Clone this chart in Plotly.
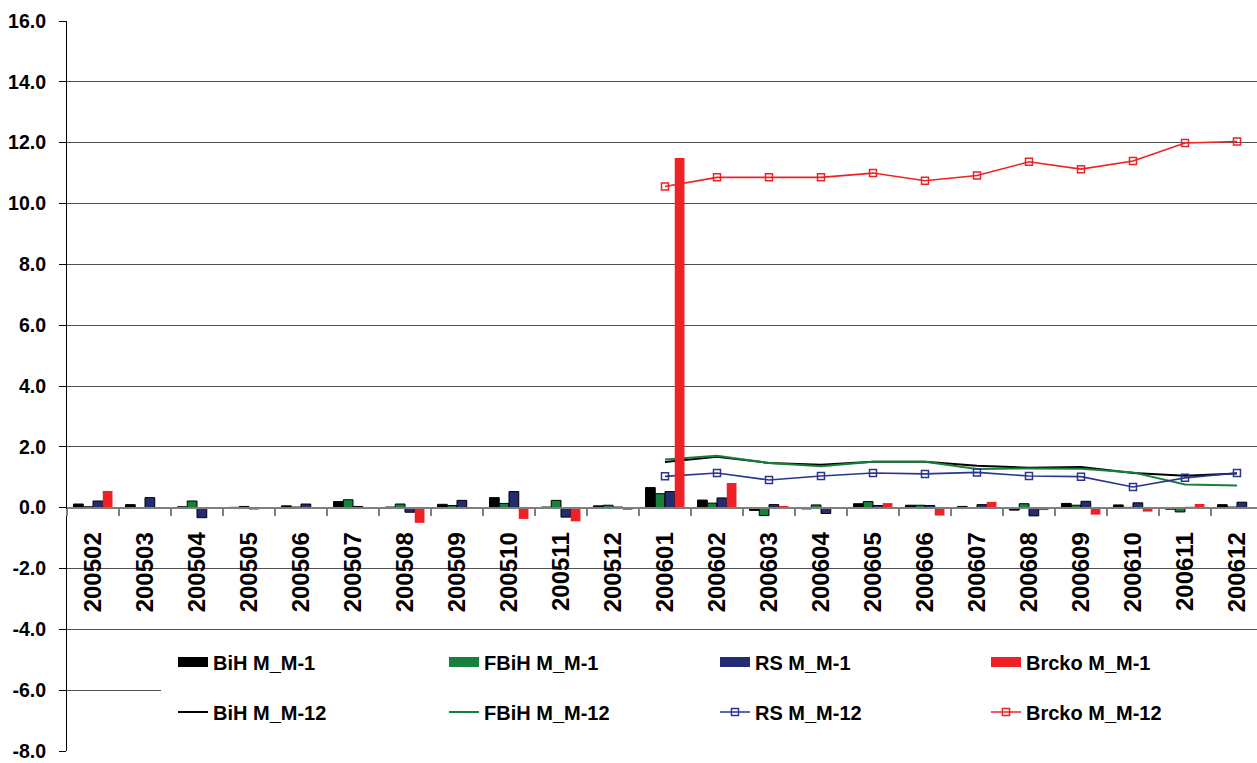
import plotly.graph_objects as go

categories = ["200502", "200503", "200504", "200505", "200506", "200507", "200508",
              "200509", "200510", "200511", "200512", "200601", "200602", "200603",
              "200604", "200605", "200606", "200607", "200608", "200609", "200610",
              "200611", "200612"]

bih_m1 = [0.12, 0.10, 0.03, 0.01, 0.06, 0.20, 0.02, 0.11, 0.33, 0.02, 0.06, 0.66,
          0.25, -0.09, -0.04, 0.13, 0.08, 0.04, -0.08, 0.14, 0.09, -0.05, 0.10]
fbih_m1 = [0.03, -0.02, 0.22, 0.04, 0.02, 0.26, 0.12, 0.07, 0.14, 0.24, 0.08, 0.46,
           0.15, -0.26, 0.09, 0.20, 0.08, -0.02, 0.13, 0.08, 0.01, -0.14, 0.02]
rs_m1 = [0.22, 0.33, -0.33, -0.04, 0.12, 0.04, -0.15, 0.24, 0.53, -0.31, 0.02, 0.53,
         0.32, 0.10, -0.19, 0.07, 0.07, 0.10, -0.27, 0.21, 0.16, 0.01, 0.18]
brcko_m1 = [0.55, 0.0, 0.0, 0.0, 0.0, 0.0, -0.50, 0.0, -0.37, -0.45, -0.07, 11.5,
            0.81, 0.03, 0.0, 0.15, -0.26, 0.19, -0.08, -0.23, -0.13, 0.12, 0.0]

bih_m12 = [None, None, None, None, None, None, None, None, None, None, None,
           1.50, 1.67, 1.47, 1.41, 1.51, 1.51, 1.38, 1.31, 1.34, 1.14, 1.05, 1.12]
fbih_m12 = [None, None, None, None, None, None, None, None, None, None, None,
            1.58, 1.71, 1.47, 1.36, 1.51, 1.51, 1.27, 1.29, 1.28, 1.16, 0.76, 0.73]
rs_m12 = [None, None, None, None, None, None, None, None, None, None, None,
          1.03, 1.14, 0.91, 1.04, 1.14, 1.11, 1.16, 1.04, 1.02, 0.68, 0.98, 1.14]
brcko_m12 = [None, None, None, None, None, None, None, None, None, None, None,
             10.56, 10.86, 10.86, 10.86, 11.00, 10.75, 10.92, 11.37, 11.13, 11.40, 11.99, 12.04]

y_ticks = [-8, -6, -4, -2, 0, 2, 4, 6, 8, 10, 12, 14, 16]

BLACK = "#000000"
GREEN = "#17803d"
NAVY = "#232c73"
RED = "#ee2226"
NAVY_LINE = "#2b3490"

FONT = "Liberation Sans, Arial, sans-serif"
NARROW = "Liberation Sans Narrow, Arial Narrow, Liberation Sans, sans-serif"

fig = go.Figure()

bar_specs = [
    ("BiH M_M-1", bih_m1, BLACK, 1),
    ("FBiH M_M-1", fbih_m1, GREEN, 1),
    ("RS M_M-1", rs_m1, NAVY, 1),
    ("Brcko M_M-1", brcko_m1, RED, 0),
]
for name, vals, col, lw in bar_specs:
    fig.add_trace(go.Bar(
        x=categories, y=vals, name=name,
        marker=dict(color=col, line=dict(color="#000000", width=lw)),
        xaxis="x2", yaxis="y2", showlegend=False,
    ))
# legend swatches for the bar series (wide rectangles, as in the original legend)
for name, vals, col, lw in bar_specs:
    fig.add_trace(go.Scatter(
        x=[None], y=[None], name=name, mode="lines",
        line=dict(color=col, width=13), legend="legend", hoverinfo="skip",
    ))

line_specs = [
    ("BiH M_M-12", bih_m12, BLACK, None),
    ("FBiH M_M-12", fbih_m12, GREEN, None),
    ("RS M_M-12", rs_m12, NAVY_LINE, "square-open"),
    ("Brcko M_M-12", brcko_m12, RED, "square-open"),
]
for name, vals, col, sym in line_specs:
    if sym:
        fig.add_trace(go.Scatter(
            x=categories, y=vals, name=name, mode="lines+markers",
            line=dict(color=col, width=1.6),
            marker=dict(symbol=sym, size=7, color=col, line=dict(width=1.5, color=col)),
            connectgaps=False, legend="legend2",
        ))
    else:
        fig.add_trace(go.Scatter(
            x=categories, y=vals, name=name, mode="lines",
            line=dict(color=col, width=2),
            connectgaps=False, legend="legend2",
        ))

xrange = [-0.5, 22.385]
yrange = [-8, 16]

BW = 12
leg_common = dict(
    orientation="h", xanchor="left", yanchor="middle",
    bgcolor="white", bordercolor="white", borderwidth=BW,
    entrywidth=226, entrywidthmode="pixels",
    font=dict(family=FONT, size=20, color="black", weight="bold"),
    itemwidth=30,
)
leg_x = (213 - 40 - BW - 67) / 1190

fig.update_layout(
    width=1257, height=763,
    margin=dict(l=67, r=0, t=21, b=12, autoexpand=False),
    paper_bgcolor="white", plot_bgcolor="white",
    font=dict(family=FONT, color="black"),
    barmode="group", bargap=0.25, bargroupgap=0,
    showlegend=True,
    legend=dict(x=leg_x, y=(751 - 662) / 730, **leg_common),
    legend2=dict(x=leg_x, y=(751 - 712) / 730, **leg_common),
    xaxis=dict(
        type="category", categoryorder="array", categoryarray=categories,
        range=xrange, anchor="free", position=1/3,
        showline=True, linecolor="#7f7f7f", linewidth=2,
        ticks="outside", ticklen=7, tickcolor="#7f7f7f", tickwidth=1.5,
        tickson="boundaries", tickangle=-90, ticklabelstandoff=14,
        tickfont=dict(family=NARROW, size=24, color="black", weight="bold"),
        showgrid=False, zeroline=False,
    ),
    yaxis=dict(
        range=yrange, tickmode="array", tickvals=y_ticks,
        ticktext=[f"{v:.1f}" for v in y_ticks],
        showline=True, linecolor="black", linewidth=1.2,
        ticks="outside", ticklen=7, tickcolor="black",
        showgrid=True, gridcolor="#505050", gridwidth=1,
        zeroline=False,
        tickfont=dict(family=FONT, size=19.5, color="black", weight="bold"),
        ticklabelstandoff=9,
    ),
    xaxis2=dict(
        type="category", categoryorder="array", categoryarray=categories,
        range=xrange, overlaying="x", visible=False, anchor="y2",
    ),
    yaxis2=dict(range=yrange, overlaying="y", visible=False, anchor="x2"),
)

fig.write_html("out.html", config={"displayModeBar": False},
               post_script="document.body.style.margin='0';")
